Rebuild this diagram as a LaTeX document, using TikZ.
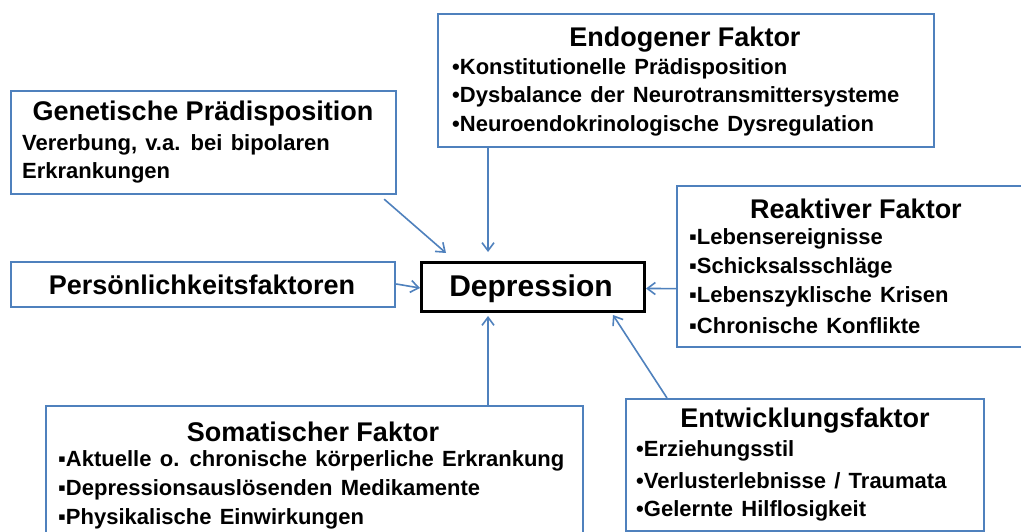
\documentclass[tikz,border=0pt]{standalone}
\usepackage{fontspec}
\setmainfont{Liberation Sans}
\newfontfamily\bodyfont{Liberation Sans}[WordSpace=1.35]
\usetikzlibrary{arrows.meta}
\definecolor{boxblue}{RGB}{79,129,189}
\tikzset{
  fbox/.style={draw=boxblue, line width=2.2pt, inner sep=0pt, anchor=north west},
  ttl/.style={font=\fontsize{27}{30}\selectfont\bfseries, inner sep=0pt},
  bod/.style={font=\bodyfont\fontsize{22}{28}\selectfont\bfseries, inner sep=0pt, anchor=west},
  arr/.style={draw=boxblue, line width=1.6pt, -{Straight Barb[length=8pt,width=12pt,line width=1.6pt]}}
}
\begin{document}
\begin{tikzpicture}[x=1pt,y=-1pt]
\clip (0,0) rectangle (1021,532);
\fill[white] (0,0) rectangle (1021,532);
% boxes
\node[fbox, minimum width=496, minimum height=133] (endo) at (437,13) {};
\node[fbox, minimum width=385, minimum height=103] (gen) at (10,90) {};
\node[fbox, minimum width=384, minimum height=45] (pers) at (10,261) {};
\node[fbox, minimum width=360, minimum height=161] (reak) at (676,185) {};
\node[fbox, minimum width=537, minimum height=140] (som) at (45,405) {};
\node[fbox, minimum width=358, minimum height=132] (entw) at (625,398) {};
\node[draw=black, line width=3pt, inner sep=0pt, anchor=north west, minimum width=223, minimum height=49] (dep) at (420,261) {};
% texts
\node[ttl] (endoT) at (685,40) {Endogener Faktor};
\node[bod] (endo1) at (452,69) {•Konstitutionelle Prädisposition};
\node[bod] (endo2) at (452,97) {•Dysbalance der Neurotransmittersysteme};
\node[bod] (endo3) at (452,126) {•Neuroendokrinologische Dysregulation};
\node[ttl] (genT) at (203,114) {Genetische Prädisposition};
\node[bod] (gen1) at (22,145) {Vererbung, v.a. bei bipolaren};
\node[bod] (gen2) at (22,173) {Erkrankungen};
\node[ttl] (persT) at (202,285) {Persönlichkeitsfaktoren};
\node[font=\fontsize{30}{32}\selectfont\bfseries, inner sep=0pt] (depT) at (531,289) {Depression};
\node[ttl] (reakT) at (856,209) {Reaktiver Faktor};
\node[bod] (reak1) at (689,239) {▪Lebensereignisse};
\node[bod] (reak2) at (689,268) {▪Schicksalsschläge};
\node[bod] (reak3) at (689,297) {▪Lebenszyklische Krisen};
\node[bod] (reak4) at (689,326) {▪Chronische Konflikte};
\node[ttl] (somT) at (313,432) {Somatischer Faktor};
\node[bod] (som1) at (58,461) {▪Aktuelle o. chronische körperliche Erkrankung};
\node[bod] (som2) at (58,490) {▪Depressionsauslösenden Medikamente};
\node[bod] (som3) at (58,519) {▪Physikalische Einwirkungen};
\node[ttl] (entwT) at (805,421) {Entwicklungsfaktor};
\node[bod] (entw1) at (636,451) {•Erziehungsstil};
\node[bod] (entw2) at (636,481) {•Verlusterlebnisse / Traumata};
\node[bod] (entw3) at (636,511) {•Gelernte Hilflosigkeit};
% connectors
\draw[arr] ([shift={(-13,4)}]gen.south east) -- ([shift={(26,-8)}]dep.north west);
\draw[arr] ([xshift=51]endo.south west) -- ([shift={(68,-9)}]dep.north west);
\draw[arr] ([yshift=-23]pers.north east) -- ([yshift=-1]dep.west);
\draw[arr] ([yshift=-22]reak.west) -- ([yshift=-1.5]dep.east);
\draw[arr] ([xshift=443]som.north west) -- ([shift={(68,3)}]dep.south west);
\draw[arr] ([xshift=42]entw.north west) -- ([shift={(-33,2)}]dep.south east);
\end{tikzpicture}
\end{document}
